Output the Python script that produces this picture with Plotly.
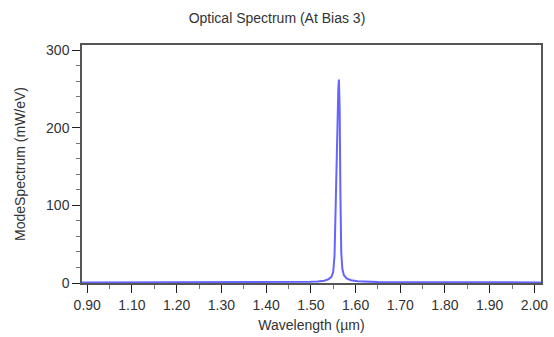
import plotly.graph_objects as go

wavelength = [0.988, 1.10, 1.20, 1.30, 1.40, 1.45, 1.48, 1.50, 1.515, 1.53, 1.540, 1.546,
              1.550, 1.553, 1.556, 1.559, 1.5615, 1.5628, 1.5645, 1.5660, 1.5680, 1.5705,
              1.574, 1.580, 1.590, 1.605, 1.62, 1.65, 1.70, 1.80, 1.90, 2.015]
spectrum = [0.8, 0.8, 0.8, 0.8, 0.9, 1.0, 1.2, 1.5, 2.0, 3.0, 5.0, 8.0,
            14, 35, 110, 200, 250, 262, 225, 120, 40, 18,
            10, 6, 3.5, 2.2, 1.6, 1.2, 1.0, 0.9, 0.8, 0.8]

x_tickvals = [1.0, 1.1, 1.2, 1.3, 1.4, 1.5, 1.6, 1.7, 1.8, 1.9, 2.0]
x_ticktext = ["0.90", "1.10", "1.20", "1.30", "1.40", "1.50", "1.60", "1.70", "1.80", "1.90", "2.00"]
y_tickvals = [0, 100, 200, 300]

font = "Liberation Sans, Arial, sans-serif"
axis_col = "#555555"
text_col = "#333333"

fig = go.Figure()
fig.add_trace(go.Scatter(x=wavelength, y=spectrum, mode="lines",
                         line=dict(color="#6464ff", width=2), showlegend=False))

fig.update_layout(
    width=554, height=337,
    margin=dict(l=82, r=6, t=45, b=53),
    paper_bgcolor="white", plot_bgcolor="white",
    font=dict(family=font, size=14, color=text_col),
    title=dict(text="Optical Spectrum (At Bias 3)", x=0.5, xanchor="center",
               y=1 - 18 / 337, yanchor="middle", font=dict(size=14, color=text_col)),
)
fig.update_xaxes(
    range=[0.9883, 2.0147], tickmode="array", tickvals=x_tickvals, ticktext=x_ticktext,
    ticks="outside", ticklen=8, tickcolor="#222222", tickwidth=1,
    minor=dict(dtick=0.05, tick0=1.0, ticks="outside", ticklen=4, tickcolor="#777777"),
    showline=True, linecolor=axis_col, linewidth=1.5, mirror=True,
    showgrid=False, zeroline=False,
    tickfont=dict(size=14, color=text_col),
    title=dict(text="Wavelength (µm)", font=dict(size=14, color=text_col), standoff=9),
)
fig.update_yaxes(
    range=[0, 306.5], tickmode="array", tickvals=y_tickvals,
    ticks="outside", ticklen=8, tickcolor="#222222", tickwidth=1,
    minor=dict(dtick=20, tick0=0, ticks="outside", ticklen=4, tickcolor="#777777"),
    showline=True, linecolor=axis_col, linewidth=1.5, mirror=True,
    showgrid=False, zeroline=False,
    tickfont=dict(size=14, color=text_col),
    title=dict(text="ModeSpectrum (mW/eV)", font=dict(size=14, color=text_col), standoff=17),
)

fig.write_html("out.html")
